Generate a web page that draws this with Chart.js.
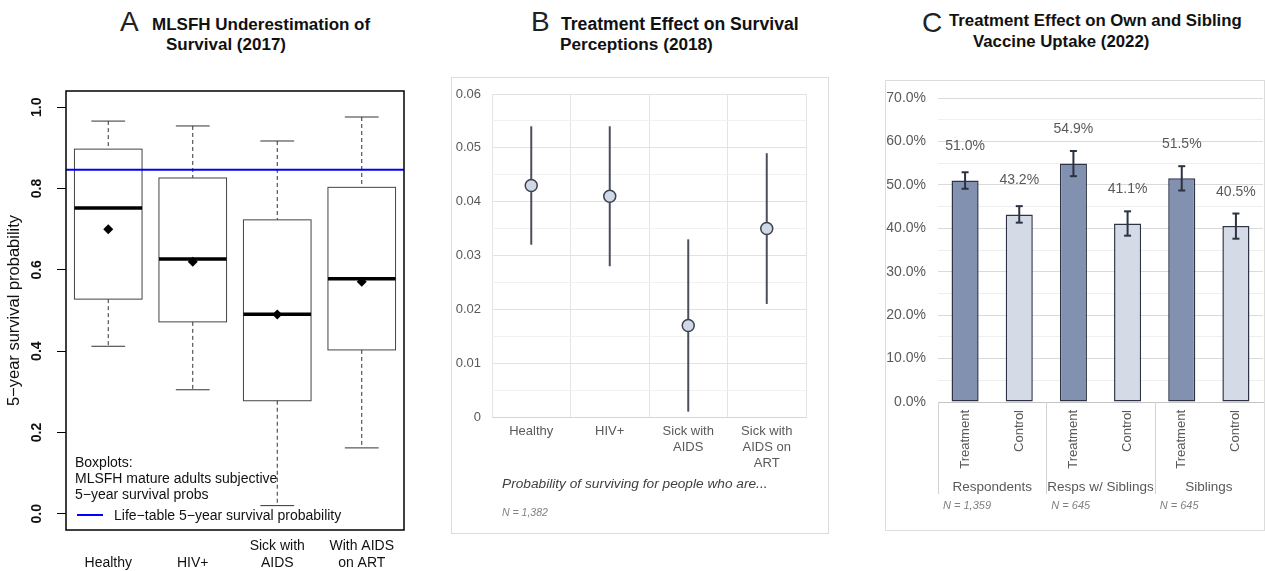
<!DOCTYPE html>
<html>
<head>
<meta charset="utf-8">
<script src="https://cdn.jsdelivr.net/npm/chart.js@4.4.1/dist/chart.umd.min.js"></script>
<style>
  body { margin: 0; width: 1265px; height: 571px; background: #fff; position: relative; overflow: hidden;
         font-family: 'Liberation Sans', Arial, Helvetica, sans-serif; }
  .t { position: absolute; white-space: nowrap; line-height: 1; }
  .letter { font-size: 28px; color: #222; }
  .bold { font-weight: bold; color: #111; }
  .frame { position: absolute; border: 1px solid #dcdcdc; box-sizing: border-box; }
  canvas { position: absolute; }
</style>
</head>
<body>
<!-- panel titles -->
<div class="t letter" style="left:120px;top:8px">A</div>
<div class="t bold" style="left:152px;top:16px;font-size:17px">MLSFH Underestimation of</div>
<div class="t bold" style="left:166px;top:36px;font-size:17px">Survival (2017)</div>

<div class="t letter" style="left:531px;top:8px">B</div>
<div class="t bold" style="left:561px;top:16px;font-size:17.6px">Treatment Effect on Survival</div>
<div class="t bold" style="left:560px;top:36px;font-size:17.2px">Perceptions (2018)</div>

<div class="t letter" style="left:922px;top:9px">C</div>
<div class="t bold" style="left:949px;top:13px;font-size:16.8px">Treatment Effect on Own and Sibling</div>
<div class="t bold" style="left:973px;top:34px;font-size:16.8px">Vaccine Uptake (2022)</div>

<!-- frames of B and C -->
<div class="frame" style="left:451px;top:77px;width:378px;height:457px"></div>
<div class="frame" style="left:885px;top:80px;width:380px;height:451px"></div>

<canvas id="chartA" width="420" height="571" style="left:0;top:0"></canvas>
<canvas id="chartB" width="400" height="511" style="left:440px;top:60px"></canvas>
<canvas id="chartC" width="395" height="511" style="left:870px;top:60px"></canvas>

<!-- legend of A -->
<div class="t" style="left:75px;top:455px;font-size:14px;color:#111">Boxplots:</div>
<div class="t" style="left:75px;top:471px;font-size:14px;color:#111">MLSFH mature adults subjective</div>
<div class="t" style="left:75px;top:487px;font-size:14px;color:#111">5−year survival probs</div>
<div style="position:absolute;left:77px;top:514px;width:26px;height:2px;background:#0000ff"></div>
<div class="t" style="left:114px;top:508px;font-size:14px;color:#111">Life−table 5−year survival probability</div>

<!-- notes of B -->
<div class="t" style="left:502px;top:477px;font-size:13.7px;font-style:italic;color:#404040">Probability of surviving for people who are...</div>
<div class="t" style="left:502px;top:507px;font-size:10.5px;font-style:italic;color:#808080">N = 1,382</div>

<script>
Chart.defaults.font.family = "'Liberation Sans', Arial, Helvetica, sans-serif";
Chart.defaults.animation = false;

// ---------- panel A: boxplots of subjective 5-year survival
const catsA = [['', 'Healthy'], ['', 'HIV+'], ['Sick with', 'AIDS'], ['With AIDS', 'on ART']];
const whiskLoA = [0.412, 0.305, 0.020, 0.162];
const q1A      = [0.528, 0.472, 0.278, 0.403];
const medA     = [0.752, 0.627, 0.491, 0.578];
const q3A      = [0.897, 0.826, 0.723, 0.803];
const whiskHiA = [0.966, 0.954, 0.917, 0.976];
const meanA    = [0.700, 0.620, 0.490, 0.571];
const lifeTableA = 0.846;
const yTicksA = [0, 0.2, 0.4, 0.6, 0.8, 1.0];
const yTickLabelsA = ['0.0', '0.2', '0.4', '0.6', '0.8', '1.0'];

// ---------- panel B: treatment effect on survival perceptions
const catsB = ['Healthy', 'HIV+', ['Sick with', 'AIDS'], ['Sick with', 'AIDS on', 'ART']];
const estB = [0.043, 0.041, 0.017, 0.035];
const loB  = [0.032, 0.028, 0.001, 0.021];
const hiB  = [0.054, 0.054, 0.033, 0.049];
const yTicksB = [0, 0.01, 0.02, 0.03, 0.04, 0.05, 0.06];
const yTickLabelsB = ['0', '0.01', '0.02', '0.03', '0.04', '0.05', '0.06'];

// ---------- panel C: vaccine uptake
const catsC = ['Treatment', 'Control', 'Treatment', 'Control', 'Treatment', 'Control'];
const groupsC = ['Respondents', 'Resps w/ Siblings', 'Siblings'];
const groupNC = ['N = 1,359', 'N = 645', 'N = 645'];
const valC = [51.0, 43.2, 54.9, 41.1, 51.5, 40.5];
const loC  = [49.1, 41.3, 52.0, 38.3, 48.7, 37.6];
const hiC  = [52.9, 45.1, 57.8, 43.9, 54.3, 43.4];
const yTicksC = [0, 10, 20, 30, 40, 50, 60, 70];
const yTickLabelsC = ['0.0%', '10.0%', '20.0%', '30.0%', '40.0%', '50.0%', '60.0%', '70.0%'];

// adds the half-way ticks used for the light minor grid lines
function withMinor(vals) {
    const out = [];
    vals.forEach((v, i) => {
        out.push({ value: v });
        if (i < vals.length - 1) out.push({ value: (v + vals[i + 1]) / 2 });
    });
    return out;
}

function seg(ctx, x1, y1, x2, y2) {
    ctx.beginPath();
    ctx.moveTo(x1, y1);
    ctx.lineTo(x2, y2);
    ctx.stroke();
}

// ================= A =================
const boxPlotA = {
    id: 'boxPlotA',
    beforeDatasetsDraw(chart) {
        const { ctx, scales: { x, y } } = chart;
        const hw = x.getPixelForValue(1.4) - x.getPixelForValue(1);
        ctx.save();
        medA.forEach((m, i) => {
            const cx = x.getPixelForValue(i + 1);
            ctx.strokeStyle = '#333';
            ctx.lineWidth = 1;
            ctx.setLineDash([4, 3]);
            seg(ctx, cx, y.getPixelForValue(whiskHiA[i]), cx, y.getPixelForValue(q3A[i]));
            seg(ctx, cx, y.getPixelForValue(q1A[i]), cx, y.getPixelForValue(whiskLoA[i]));
            ctx.setLineDash([]);
            seg(ctx, cx - hw / 2, y.getPixelForValue(whiskHiA[i]), cx + hw / 2, y.getPixelForValue(whiskHiA[i]));
            seg(ctx, cx - hw / 2, y.getPixelForValue(whiskLoA[i]), cx + hw / 2, y.getPixelForValue(whiskLoA[i]));
            const top = y.getPixelForValue(q3A[i]);
            const bot = y.getPixelForValue(q1A[i]);
            ctx.strokeStyle = '#444';
            ctx.strokeRect(cx - hw, top, 2 * hw, bot - top);
            ctx.strokeStyle = '#000';
            ctx.lineWidth = 3.5;
            seg(ctx, cx - hw, y.getPixelForValue(m), cx + hw, y.getPixelForValue(m));
        });
        ctx.restore();
    },
    afterDraw(chart) {
        const { ctx, chartArea: a, scales: { y } } = chart;
        ctx.save();
        ctx.strokeStyle = '#000';
        ctx.lineWidth = 1.5;
        ctx.strokeRect(a.left, a.top, a.right - a.left, a.bottom - a.top);
        // R style tick labels, turned to read upwards
        ctx.fillStyle = '#111';
        ctx.font = "bold 14px 'Liberation Sans', Arial, sans-serif";
        ctx.textAlign = 'center';
        ctx.textBaseline = 'middle';
        yTicksA.forEach((v, i) => {
            ctx.save();
            ctx.translate(37, y.getPixelForValue(v));
            ctx.rotate(-Math.PI / 2);
            ctx.fillText(yTickLabelsA[i], 0, 0);
            ctx.restore();
        });
        ctx.restore();
    }
};

new Chart(document.getElementById('chartA'), {
    type: 'scatter',
    data: {
        datasets: [
            {
                data: meanA.map((v, i) => ({ x: i + 1, y: v })),
                pointStyle: 'rectRot',
                pointRadius: 5,
                backgroundColor: '#000',
                borderColor: '#000',
                borderWidth: 0
            },
            {
                data: [{ x: 0.5, y: lifeTableA }, { x: 4.5, y: lifeTableA }],
                showLine: true,
                borderColor: '#0000ff',
                borderWidth: 2,
                pointRadius: 0
            }
        ]
    },
    options: {
        responsive: false,
        layout: { padding: { top: 91, right: 16, left: 0, bottom: 0 } },
        plugins: { legend: { display: false }, tooltip: { enabled: false } },
        scales: {
            x: {
                type: 'linear',
                min: 0.5,
                max: 4.5,
                afterBuildTicks: s => { s.ticks = [1, 2, 3, 4].map(v => ({ value: v })); },
                afterFit: s => { s.height = 41; },
                border: { display: false },
                grid: { display: false, drawTicks: false },
                ticks: {
                    autoSkip: false,
                    maxRotation: 0,
                    padding: 8,
                    color: '#111',
                    font: { size: 14 },
                    callback: (v, i) => catsA[i]
                }
            },
            y: {
                min: -0.04,
                max: 1.04,
                afterBuildTicks: s => { s.ticks = yTicksA.map(v => ({ value: v })); },
                afterFit: s => { s.width = 66; },
                border: { display: false },
                grid: { drawOnChartArea: false, drawTicks: true, tickLength: 9, color: '#000' },
                ticks: { display: false },
                title: {
                    display: true,
                    text: '5−year survival probability',
                    color: '#111',
                    font: { size: 16.5 },
                    padding: { top: 5, bottom: 0 }
                }
            }
        }
    },
    plugins: [boxPlotA]
});

// ================= B =================
const rangeLinesB = {
    id: 'rangeLinesB',
    beforeDatasetsDraw(chart) {
        const { ctx, scales: { x, y } } = chart;
        ctx.save();
        ctx.strokeStyle = '#4b4f5d';
        ctx.lineWidth = 2;
        estB.forEach((v, i) => {
            const px = x.getPixelForValue(i);
            seg(ctx, px, y.getPixelForValue(loB[i]), px, y.getPixelForValue(hiB[i]));
        });
        ctx.restore();
    }
};

new Chart(document.getElementById('chartB'), {
    type: 'line',
    data: {
        labels: catsB,
        datasets: [{
            data: estB,
            showLine: false,
            pointRadius: 6,
            pointBackgroundColor: '#d0d8e6',
            pointBorderColor: '#3c4050',
            pointBorderWidth: 1.5
        }]
    },
    options: {
        responsive: false,
        layout: { padding: { top: 34, right: 34, left: 0, bottom: 0 } },
        plugins: { legend: { display: false }, tooltip: { enabled: false } },
        scales: {
            x: {
                offset: true,
                afterFit: s => { s.height = 154; },
                border: { color: '#d6d6d6' },
                grid: { offset: true, color: '#e4e4e4', drawTicks: false },
                ticks: { padding: 7, color: '#595959', font: { size: 13 }, maxRotation: 0, autoSkip: false }
            },
            y: {
                min: 0,
                max: 0.06,
                afterBuildTicks: s => { s.ticks = withMinor(yTicksB); },
                afterFit: s => { s.width = 52; },
                border: { display: false },
                grid: { drawTicks: false, color: c => (c.index % 2 ? '#f1f1f1' : '#e2e2e2') },
                ticks: {
                    padding: 11,
                    color: '#595959',
                    font: { size: 13 },
                    callback: (v, i) => (i % 2 ? '' : yTickLabelsB[i / 2])
                }
            }
        }
    },
    plugins: [rangeLinesB]
});

// ================= C =================
const barExtrasC = {
    id: 'barExtrasC',
    afterDatasetsDraw(chart) {
        const { ctx, scales: { x, y } } = chart;
        ctx.save();
        ctx.strokeStyle = '#2c3242';
        ctx.lineWidth = 2;
        valC.forEach((v, i) => {
            const px = x.getPixelForValue(i);
            const yl = y.getPixelForValue(loC[i]);
            const yh = y.getPixelForValue(hiC[i]);
            seg(ctx, px, yl, px, yh);
            seg(ctx, px - 3.5, yl, px + 3.5, yl);
            seg(ctx, px - 3.5, yh, px + 3.5, yh);
        });
        ctx.fillStyle = '#595959';
        ctx.font = "14px 'Liberation Sans', Arial, sans-serif";
        ctx.textAlign = 'center';
        ctx.textBaseline = 'middle';
        valC.forEach((v, i) => {
            ctx.fillText(v.toFixed(1) + '%', x.getPixelForValue(i), y.getPixelForValue(v) - 34);
        });
        ctx.restore();
    },
    afterDraw(chart) {
        const { ctx, chartArea: a, scales: { x } } = chart;
        ctx.save();
        ctx.strokeStyle = '#d2d2d2';
        ctx.lineWidth = 1;
        groupsC.forEach((g, gi) => {
            const p0 = x.getPixelForValue(2 * gi);
            const p1 = x.getPixelForValue(2 * gi + 1);
            const left = gi === 0 ? a.left : (x.getPixelForValue(2 * gi - 1) + p0) / 2;
            seg(ctx, Math.round(left) + 0.5, a.bottom, Math.round(left) + 0.5, a.bottom + 92);
            ctx.fillStyle = '#595959';
            ctx.font = "13.5px 'Liberation Sans', Arial, sans-serif";
            ctx.textAlign = 'center';
            ctx.textBaseline = 'middle';
            ctx.fillText(g, (p0 + p1) / 2, a.bottom + 85);
            ctx.fillStyle = '#808080';
            ctx.font = "italic 11px 'Liberation Sans', Arial, sans-serif";
            ctx.textAlign = 'left';
            ctx.fillText(groupNC[gi], left + 5, a.bottom + 104);
        });
        ctx.restore();
    }
};

new Chart(document.getElementById('chartC'), {
    type: 'bar',
    data: {
        labels: catsC,
        datasets: [{
            data: valC,
            backgroundColor: c => (c.index % 2 ? '#d5dbe6' : '#8191af'),
            borderColor: '#2e3445',
            borderWidth: 1.5,
            borderSkipped: false,
            barPercentage: 0.5,
            categoryPercentage: 1
        }]
    },
    options: {
        responsive: false,
        layout: { padding: { top: 38, right: 2, left: 0, bottom: 0 } },
        plugins: { legend: { display: false }, tooltip: { enabled: false } },
        scales: {
            x: {
                afterFit: s => { s.height = 169; },
                border: { color: '#c4c4c4' },
                grid: { display: false, drawTicks: false },
                ticks: {
                    minRotation: 90,
                    maxRotation: 90,
                    crossAlign: 'center',
                    padding: 8,
                    color: '#595959',
                    font: { size: 13 },
                    autoSkip: false
                }
            },
            y: {
                min: 0,
                max: 70,
                afterBuildTicks: s => { s.ticks = withMinor(yTicksC); },
                afterFit: s => { s.width = 68; },
                border: { display: false },
                grid: { drawTicks: false, color: c => (c.index % 2 ? '#efefef' : '#dadada') },
                ticks: {
                    padding: 12,
                    color: '#595959',
                    font: { size: 14 },
                    callback: (v, i) => (i % 2 ? '' : yTickLabelsC[i / 2])
                }
            }
        }
    },
    plugins: [barExtrasC]
});
</script>
</body>
</html>
